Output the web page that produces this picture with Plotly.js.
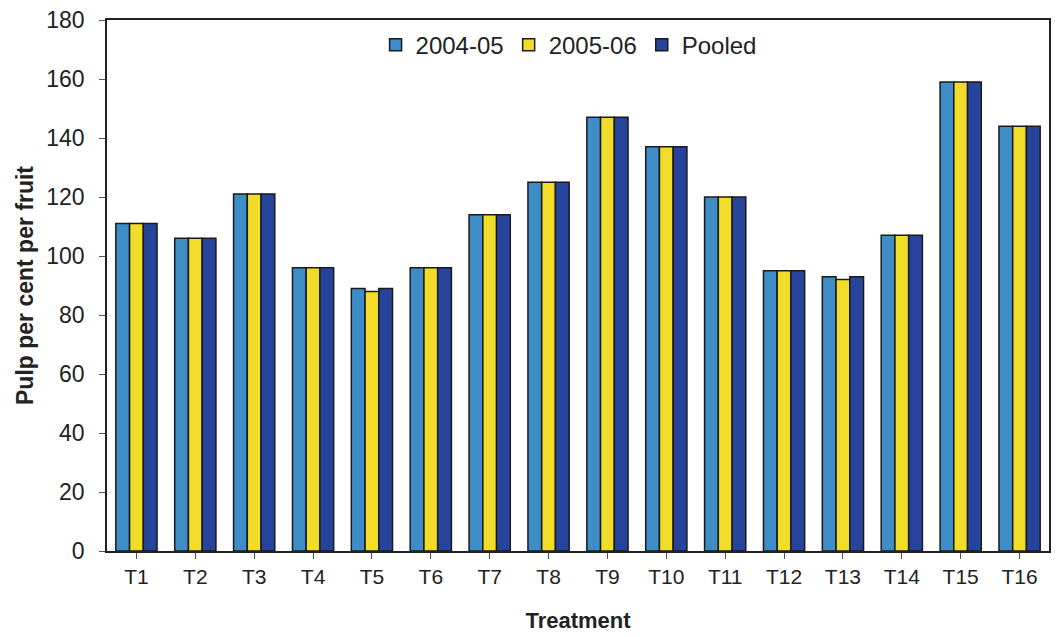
<!DOCTYPE html>
<html><head><meta charset="utf-8">
<script src="https://cdn.plot.ly/plotly-3.0.1.min.js"></script>
<style>body{margin:0;background:#fff}#c{width:1057px;height:637px}</style>
</head><body><div id="c"></div>
<script>
const categories = ["T1","T2","T3","T4","T5","T6","T7","T8","T9","T10","T11","T12","T13","T14","T15","T16"];
const s2004 = [111,106,121,96,89,96,114,125,147,137,120,95,93,107,159,144];
const s2005 = [111,106,121,96,88,96,114,125,147,137,120,95,92,107,159,144];
const pooled = [111,106,121,96,89,96,114,125,147,137,120,95,93,107,159,144];
const seriesNames = ["2004-05","2005-06","Pooled"];
const colors = ["#3f8dc6","#f2dc2a","#27449c"];
const vals = [s2004, s2005, pooled];
const data = vals.map((v,i)=>({type:'bar',x:categories,y:v,name:seriesNames[i],
  marker:{color:colors[i],line:{color:'#1a1a1a',width:1.5}}}));
const layout = {
  width:1057,height:637,margin:{l:107,r:8,t:20,b:86},
  paper_bgcolor:'#fff',plot_bgcolor:'#fff',
  barmode:'group',bargap:0.3,bargroupgap:0,
  font:{family:'Liberation Sans, Arial, sans-serif',color:'#222'},
  showlegend:true,
  legend:{orientation:'h',x:0.49,xanchor:'center',y:0.995,yanchor:'top',
    font:{size:24},itemwidth:22,tracegroupgap:0,bgcolor:'rgba(0,0,0,0)'},
  xaxis:{showline:true,linecolor:'#222',linewidth:1.5,mirror:true,ticks:'outside',
    ticklen:6,tickcolor:'#555',tickfont:{size:21},
    title:{text:'<b>Treatment</b>',font:{size:22},standoff:26}},
  yaxis:{range:[0,180],dtick:20,showline:true,linecolor:'#222',linewidth:1.5,mirror:true,
    ticks:'outside',ticklen:6,tickcolor:'#555',showgrid:false,zeroline:false,ticklabelstandoff:10,
    tickfont:{size:23},title:{text:'<b>Pulp per cent per fruit</b>',font:{size:23},standoff:6}}
};
Plotly.newPlot('c',data,layout,{displayModeBar:false});
</script></body></html>
